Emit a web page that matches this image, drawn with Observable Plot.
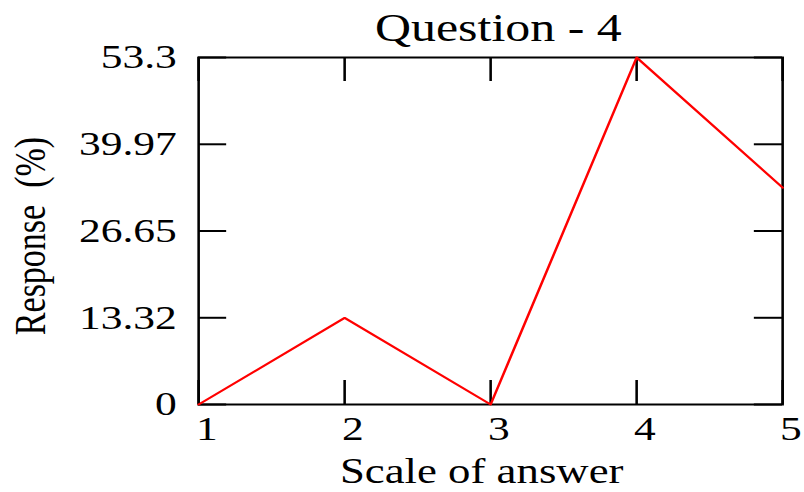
<!DOCTYPE html>
<html>
<head>
<meta charset="utf-8">
<script src="https://cdn.jsdelivr.net/npm/d3@7"></script>
<script src="https://cdn.jsdelivr.net/npm/@observablehq/plot@0.6"></script>
<style>
  html, body { margin: 0; padding: 0; background: #fff; }
  #chart svg { display: block; }
</style>
</head>
<body>
<div id="chart"></div>
<script>
// Scale points of the answer and the share of responses (%) at each
const scalePoints = [1, 2, 3, 4, 5];
const responsePct = [0, 13.3, 0, 53.3, 33.3];

// Tick values and their printed labels
const xTicks = [1, 2, 3, 4, 5];
const xTickLabels = ["1", "2", "3", "4", "5"];
const yTicks = [0, 13.32, 26.65, 39.97, 53.3];
const yTickLabels = ["0", "13.32", "26.65", "39.97", "53.3"];

const titleText = "Question - 4";
const xLabel = "Scale of answer";
const yLabel = "Response\u00A0\u00A0(%)";

const rows = scalePoints.map((x, i) => ({x, y: responsePct[i]}));

// The plot is laid out in a narrower space and stretched horizontally
const W = 804, H = 492, stretch = 1.28;
const w0 = W / stretch;
const mL = 198 / stretch, mR = (W - 782) / stretch, mT = 57, mB = 88;
const innerW = w0 - mL - mR, innerH = H - mT - mB;
const yTickLen = 22, xTickLen = 24;
const font = "Liberation Serif, Times New Roman, serif";

const svg = Plot.plot({
  width: w0,
  height: H,
  marginLeft: mL,
  marginRight: mR,
  marginTop: mT,
  marginBottom: mB,
  style: {fontFamily: font, background: "white", color: "black"},
  x: {domain: [1, 5], axis: null},
  y: {domain: [0, 53.3], axis: null},
  marks: [
    // inward ticks on all four sides
    Plot.tickY(yTicks, {y: d => d, stroke: "black", strokeWidth: 2, insetRight: innerW - yTickLen}),
    Plot.tickY(yTicks, {y: d => d, stroke: "black", strokeWidth: 2, insetLeft: innerW - yTickLen}),
    Plot.tickX(xTicks, {x: d => d, stroke: "black", strokeWidth: 2, insetTop: innerH - xTickLen}),
    Plot.tickX(xTicks, {x: d => d, stroke: "black", strokeWidth: 2, insetBottom: innerH - xTickLen}),
    Plot.frame({stroke: "black", strokeWidth: 2}),
    Plot.line(rows, {x: "x", y: "y", stroke: "#ff0000", strokeWidth: 2}),
    // tick labels
    Plot.text(yTicks, {y: d => d, text: (d, i) => yTickLabels[i], frameAnchor: "left",
      textAnchor: "end", dx: -17, fontSize: 34, fill: "black"}),
    Plot.text(xTicks, {x: d => d, text: (d, i) => xTickLabels[i], frameAnchor: "bottom",
      lineAnchor: "top", dy: 11, dx: 6.5, fontSize: 34, fill: "black"}),
    // title and axis labels
    Plot.text([titleText], {frameAnchor: "top", lineAnchor: "bottom", dy: -17, dx: 6,
      fontSize: 39, fill: "black"}),
    Plot.text([xLabel], {frameAnchor: "bottom", lineAnchor: "bottom", dy: mB - 10, dx: -7,
      fontSize: 35, fill: "black"}),
    Plot.text([yLabel], {frameAnchor: "left", rotate: -90, textAnchor: "middle", lineAnchor: "middle",
      dx: -(198 - 30) / stretch, dy: 5, fontSize: 34, fill: "black"})
  ]
});

svg.setAttribute("viewBox", `0 0 ${w0} ${H}`);
svg.setAttribute("width", W);
svg.setAttribute("height", H);
svg.setAttribute("preserveAspectRatio", "none");
svg.style.width = W + "px";
svg.style.height = H + "px";
svg.style.maxWidth = "none";
document.getElementById("chart").appendChild(svg);
</script>
</body>
</html>
